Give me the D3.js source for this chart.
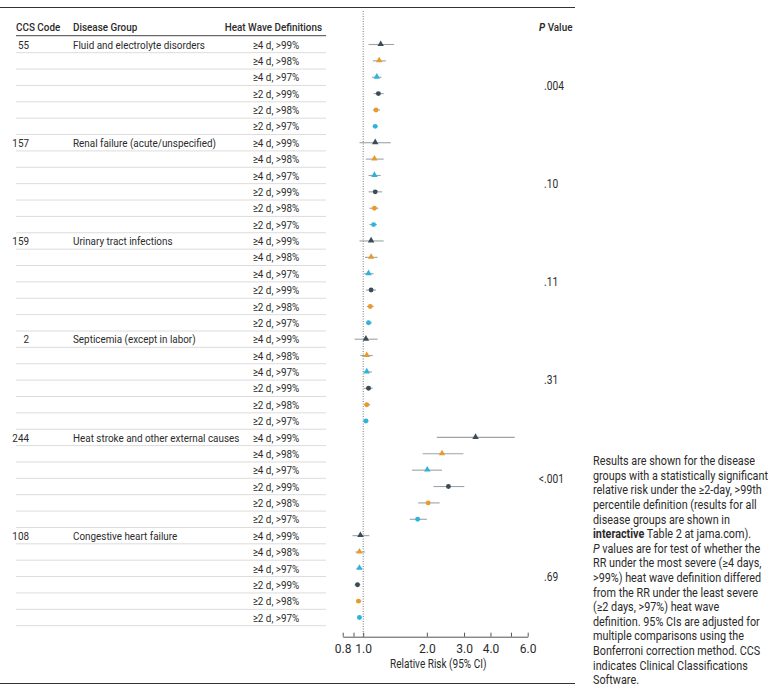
<!DOCTYPE html>
<html><head><meta charset="utf-8">
<script src="https://cdn.jsdelivr.net/npm/d3@7"></script>
<style>
body{margin:0;background:#fff}
svg{display:block}
text{font-family:Roboto,"Noto Sans",sans-serif;fill:#2b2b2b}
</style>
</head><body>
<svg id="c" width="773" height="691"></svg>
<script>
// ---------- data ----------
const ccsCodes = ["55", "157", "159", "2", "244", "108"];
const diseaseGroups = ["Fluid and electrolyte disorders", "Renal failure (acute/unspecified)", "Urinary tract infections", "Septicemia (except in labor)", "Heat stroke and other external causes", "Congestive heart failure"];
const pValues = [".004", ".10", ".11", ".31", "<.001", ".69"];
const definitions = ["≥4 d, >99%", "≥4 d, >98%", "≥4 d, >97%", "≥2 d, >99%", "≥2 d, >98%", "≥2 d, >97%"];
const rr = [
  [1.21, 1.19, 1.16, 1.18, 1.15, 1.14],
  [1.14, 1.13, 1.13, 1.14, 1.13, 1.12],
  [1.09, 1.09, 1.06, 1.09, 1.08, 1.06],
  [1.03, 1.04, 1.04, 1.06, 1.04, 1.03],
  [3.40, 2.36, 2.01, 2.53, 2.03, 1.81],
  [0.97, 0.96, 0.96, 0.94, 0.95, 0.96]
];
const ciLow = [
  [1.06, 1.11, 1.10, 1.12, 1.11, 1.11],
  [0.96, 1.03, 1.06, 1.06, 1.07, 1.07],
  [0.96, 1.02, 1.01, 1.03, 1.04, 1.03],
  [0.91, 0.97, 1.00, 1.01, 1.01, 1.00],
  [2.23, 1.91, 1.70, 2.15, 1.82, 1.66],
  [0.89, 0.92, 0.93, 0.91, 0.93, 0.94]
];
const ciHigh = [
  [1.40, 1.28, 1.22, 1.25, 1.20, 1.17],
  [1.35, 1.25, 1.21, 1.23, 1.18, 1.16],
  [1.25, 1.17, 1.12, 1.15, 1.12, 1.10],
  [1.17, 1.11, 1.10, 1.11, 1.08, 1.06],
  [5.21, 2.98, 2.36, 3.01, 2.30, 2.00],
  [1.07, 1.02, 0.99, 0.97, 0.98, 0.98]
];
const xTicks = [0.8, 0.9, 1, 2, 3, 4, 5, 6];
const xTickLabels = ["0.8", "", "1.0", "2.0", "3.0", "4.0", "", "6.0"];
const noteLines = [
  "Results are shown for the disease",
  "groups with a statistically significant",
  "relative risk under the ≥2-day, >99th",
  "percentile definition (results for all",
  "disease groups are shown in",
  "@interactive@ Table 2 at jama.com).",
  "#P# values are for test of whether the",
  "RR under the most severe (≥4 days,",
  ">99%) heat wave definition differed",
  "from the RR under the least severe",
  "(≥2 days, >97%) heat wave",
  "definition. 95% CIs are adjusted for",
  "multiple comparisons using the",
  "Bonferroni correction method. CCS",
  "indicates Clinical Classifications",
  "Software."
];

// ---------- styling ----------
const seriesColor = ["#3b4c59", "#e99a2c", "#2db3dc", "#3b4c59", "#e99a2c", "#2db3dc"];
const seriesShape = [d3.symbolTriangle, d3.symbolTriangle, d3.symbolTriangle, d3.symbolCircle, d3.symbolCircle, d3.symbolCircle];

const svg = d3.select("#c");

const rows = [];
ccsCodes.forEach((c, g) => definitions.forEach((d, k) => rows.push({g, k, def: d, v: rr[g][k], lo: ciLow[g][k], hi: ciHigh[g][k]})));
const y = d3.scaleLinear().domain([0, rows.length - 1]).range([44.5, 617.5]);
const step = y(1) - y(0);
const x = d3.scaleLog().domain([0.8, 6]).range([342.7, 527.7]);

function measure(str, fs, weight) {
  const t = svg.append("text").attr("font-size", fs).attr("font-weight", weight || 400).text(str);
  const w = t.node().getComputedTextLength();
  t.remove();
  return w;
}
const tableFs = 11.8;
const tableSx = Math.min(1, 132 / measure("Fluid and electrolyte disorders", tableFs));
const noteFs = 12.2;
const noteSx = Math.min(1, 175 / measure("groups with a statistically significant", noteFs));

function txt(parent, px, py, s, anchor, fs, sx, weight) {
  return parent.append("text")
    .attr("transform", `translate(${px},${py}) scale(${sx},1)`)
    .attr("dy", "0.35em")
    .attr("text-anchor", anchor || "start")
    .attr("font-size", fs)
    .attr("font-weight", weight || 400)
    .text(s);
}

// rules
svg.append("line").attr("x1", 0).attr("x2", 575).attr("y1", 7.5).attr("y2", 7.5).attr("stroke", "#333").attr("stroke-width", 1.2);
svg.append("line").attr("x1", 0).attr("x2", 575).attr("y1", 683.5).attr("y2", 683.5).attr("stroke", "#333").attr("stroke-width", 1.2);

// headers
const hdr = svg.append("g");
txt(hdr, 16, 27, "CCS Code", "start", tableFs, tableSx, 500);
txt(hdr, 73, 27, "Disease Group", "start", tableFs, tableSx, 500);
txt(hdr, 322, 27, "Heat Wave Definitions", "end", tableFs, tableSx, 500);
const ph = txt(hdr, 539, 27, "", "start", tableFs, tableSx, 500);
ph.append("tspan").attr("font-style", "italic").attr("font-weight", 700).text("P");
ph.append("tspan").text(" Value");
svg.append("line").attr("x1", 16).attr("x2", 326).attr("y1", 35.7).attr("y2", 35.7).attr("stroke", "#444").attr("stroke-width", 1);

// separators
svg.append("g").selectAll("line").data(rows).join("line")
  .attr("x1", 16).attr("x2", 326)
  .attr("y1", (d, i) => y(i) + step / 2).attr("y2", (d, i) => y(i) + step / 2)
  .attr("stroke", "#dcdcdc").attr("stroke-width", 1);

// table text
const tb = svg.append("g");
ccsCodes.forEach((c, g) => txt(tb, 29, y(g * 6), c, "end", tableFs, tableSx));
diseaseGroups.forEach((c, g) => txt(tb, 73, y(g * 6), c, "start", tableFs, tableSx));
rows.forEach((r, i) => txt(tb, 276, y(i), r.def, "middle", tableFs, tableSx));

// p values (decimal aligned)
const pv = svg.append("g");
pValues.forEach((p, g) => {
  const yy = y(g * 6 + 2.5);
  if (p.startsWith("<")) {
    txt(pv, 544, yy, "<", "end", tableFs + 0.4, tableSx);
    txt(pv, 544, yy, p.slice(1), "start", tableFs + 0.4, tableSx);
  } else {
    txt(pv, 544, yy, p, "start", tableFs + 0.4, tableSx);
  }
});

// reference line at 1.0
svg.append("line").attr("x1", x(1)).attr("x2", x(1)).attr("y1", 11).attr("y2", 636.7)
  .attr("stroke", "#777").attr("stroke-width", 1).attr("stroke-dasharray", "1,1.5");

// CIs
svg.append("g").selectAll("line").data(rows).join("line")
  .attr("x1", d => x(d.lo)).attr("x2", d => x(d.hi))
  .attr("y1", (d, i) => y(i)).attr("y2", (d, i) => y(i))
  .attr("stroke", "#9da3a8").attr("stroke-width", 1.1);

// markers
svg.append("g").selectAll("path").data(rows).join("path")
  .attr("transform", (d, i) => `translate(${x(d.v)},${y(i) - (d.k < 3 ? 0.4 : 0)})`)
  .attr("d", d => d3.symbol().type(seriesShape[d.k]).size(d.k < 3 ? 18 : 19)())
  .attr("fill", d => seriesColor[d.k]);

// axis
const ax = svg.append("g").attr("transform", "translate(0,636.7)")
  .call(d3.axisBottom(x).tickValues(xTicks).tickFormat((d, i) => xTickLabels[i]).tickSizeInner(-4).tickSizeOuter(0).tickPadding(8));
ax.select(".domain").attr("stroke", "#555");
ax.selectAll(".tick line").attr("stroke", "#555");
ax.selectAll(".tick text").attr("font-size", 12).attr("font-family", "Roboto,sans-serif").attr("fill", "#2b2b2b");
txt(svg, x(Math.sqrt(0.8 * 6)) + 3, 664, "Relative Risk (95% CI)", "middle", 12, tableSx);

// note
const nt = svg.append("g");
noteLines.forEach((ln, i) => {
  const t = txt(nt, 593, 461 + i * 14.6, "", "start", noteFs, noteSx);
  const parts = ln.split(/([@#][^@#]+[@#])/).filter(s => s.length);
  parts.forEach(s => {
    if (s.startsWith("@")) t.append("tspan").attr("font-weight", 700).text(s.slice(1, -1));
    else if (s.startsWith("#")) t.append("tspan").attr("font-style", "italic").text(s.slice(1, -1));
    else t.append("tspan").text(s);
  });
});
</script>
</body></html>
